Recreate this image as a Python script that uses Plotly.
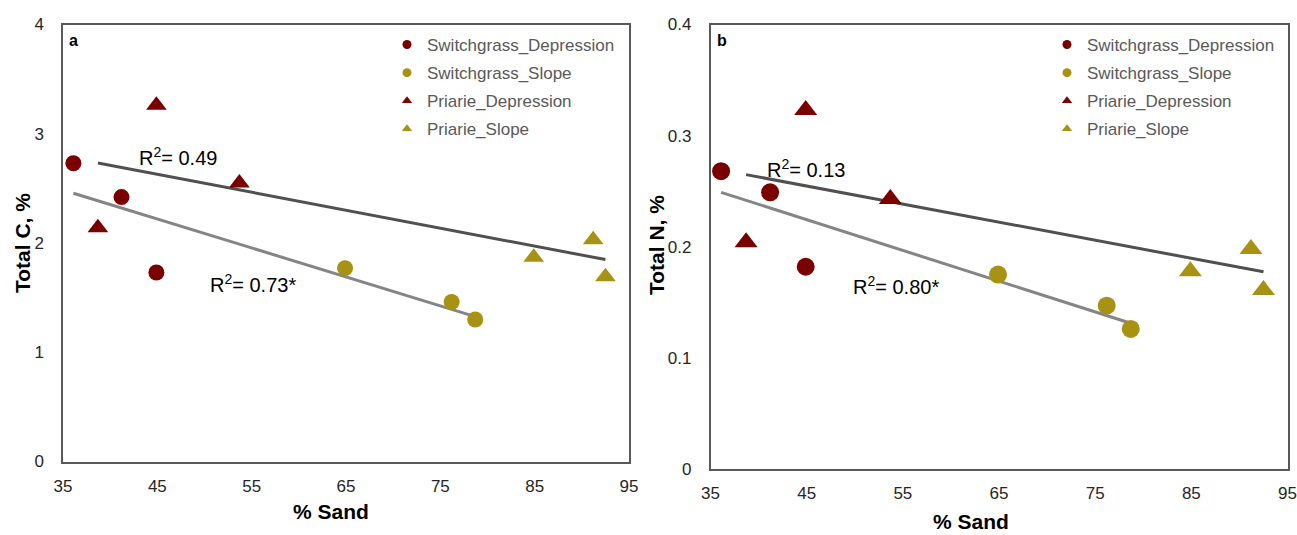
import numpy as np
import plotly.graph_objects as go

# ---------------- data ----------------
sg_dep_sand = [36.1, 41.2, 44.9]
sg_dep_C = [2.73, 2.42, 1.73]
sg_dep_N = [0.268, 0.249, 0.182]

sg_slope_sand = [64.9, 76.2, 78.7]
sg_slope_C = [1.77, 1.46, 1.30]
sg_slope_N = [0.175, 0.147, 0.126]

pr_dep_sand = [38.7, 44.9, 53.7]
pr_dep_C = [2.14, 3.26, 2.55]
pr_dep_N = [0.204, 0.323, 0.243]

pr_slope_sand = [84.9, 91.2, 92.5]
pr_slope_C = [1.87, 2.03, 1.69]
pr_slope_N = [0.178, 0.198, 0.161]

r2_labels_C = ["R<sup>2</sup>= 0.49", "R<sup>2</sup>= 0.73*"]
r2_labels_N = ["R<sup>2</sup>= 0.13", "R<sup>2</sup>= 0.80*"]
x_ticks = [35, 45, 55, 65, 75, 85, 95]
series_names = ["Switchgrass_Depression", "Switchgrass_Slope",
                "Priarie_Depression", "Priarie_Slope"]

# ---------------- style ----------------
RED = "#7A0000"
GOLD = "#A89214"
DARK_LINE = "#505050"
GRAY_LINE = "#858585"
FONT = "Arial, Liberation Sans, sans-serif"
W, H = 1297, 535

fig = go.Figure()


def fit_line(xs, ys):
    xs = np.array(xs)
    ys = np.array(ys)
    k, b = np.polyfit(xs, ys, 1)
    xx = np.array([xs.min(), xs.max()])
    return xx, k * xx + b


panels = [
    dict(xa="x", ya="y", legend="legend", size=16,
         data=[(sg_dep_sand, sg_dep_C), (sg_slope_sand, sg_slope_C),
               (pr_dep_sand, pr_dep_C), (pr_slope_sand, pr_slope_C)]),
    dict(xa="x2", ya="y2", legend="legend2", size=18,
         data=[(sg_dep_sand, sg_dep_N), (sg_slope_sand, sg_slope_N),
               (pr_dep_sand, pr_dep_N), (pr_slope_sand, pr_slope_N)]),
]
colors = [RED, GOLD, RED, GOLD]
symbols = ["circle", "circle", "triangle-up", "triangle-up"]

for pi, p in enumerate(panels):
    d = p["data"]
    # trend lines: Priarie (dark), Switchgrass (gray)
    px_, py_ = fit_line(d[2][0] + d[3][0], d[2][1] + d[3][1])
    fig.add_trace(go.Scatter(x=px_, y=py_, mode="lines", xaxis=p["xa"], yaxis=p["ya"],
                             line=dict(color=DARK_LINE, width=3), showlegend=False,
                             hoverinfo="skip"))
    sx_, sy_ = fit_line(d[0][0] + d[1][0], d[0][1] + d[1][1])
    fig.add_trace(go.Scatter(x=sx_, y=sy_, mode="lines", xaxis=p["xa"], yaxis=p["ya"],
                             line=dict(color=GRAY_LINE, width=3), showlegend=False,
                             hoverinfo="skip"))
    for i, (xs, ys) in enumerate(d):
        sz = p["size"] + (2 if symbols[i] == "triangle-up" else 0)
        fig.add_trace(go.Scatter(x=xs, y=ys, mode="markers", xaxis=p["xa"], yaxis=p["ya"],
                                 marker=dict(color=colors[i], symbol=symbols[i], size=sz,
                                             line=dict(width=0)),
                                 showlegend=False, name=series_names[i]))
    for i in range(4):
        fig.add_trace(go.Scatter(x=[None], y=[None], mode="markers",
                                 xaxis=p["xa"], yaxis=p["ya"],
                                 marker=dict(color=colors[i], symbol=symbols[i], size=9),
                                 name=series_names[i], legend=p["legend"],
                                 legendgroup=f"g{pi}{i}", showlegend=True))

# domains from pixel geometry
def xd(a, b):
    return [a / W, b / W]


def yd(top, bottom):
    return [(H - bottom) / H, (H - top) / H]


def px(x):
    return x / W


def py(y):
    return (H - y) / H


axis_common = dict(showgrid=False, zeroline=False, showline=True, mirror=True,
                   linecolor="#595959", linewidth=1.5, ticks="", automargin=False,
                   tickfont=dict(family=FONT, size=17, color="#262626"))

legend_common = dict(xref="paper", yref="paper", xanchor="left", yanchor="top",
                     bgcolor="rgba(255,255,255,0)",
                     font=dict(family=FONT, size=17, color="#595959"),
                     itemwidth=30, tracegroupgap=3)

fig.update_layout(
    width=W, height=H,
    margin=dict(l=0, r=0, t=0, b=0, autoexpand=False),
    plot_bgcolor="white", paper_bgcolor="white",
    font=dict(family=FONT),
    xaxis=dict(domain=xd(63, 629), range=[35, 95], tickvals=x_ticks, anchor="y",
               ticklabelstandoff=8, **axis_common),
    yaxis=dict(domain=yd(24.5, 461.5), range=[0, 4], dtick=1, anchor="x",
               ticklabelstandoff=14, **axis_common),
    xaxis2=dict(domain=xd(710.5, 1287.5), range=[35, 95], tickvals=x_ticks, anchor="y2",
                ticklabelstandoff=8, **axis_common),
    yaxis2=dict(domain=yd(24.5, 469), range=[0, 0.4], dtick=0.1, anchor="x2",
                ticklabelstandoff=14, **axis_common),
    legend=dict(x=px(387), y=py(27), **legend_common),
    legend2=dict(x=px(1047), y=py(27), **legend_common),
)


def label(text, x, y, size=20, angle=0, xanchor="center"):
    return dict(text=text, x=px(x), y=py(y), xref="paper", yref="paper",
                xanchor=xanchor, yanchor="middle", textangle=angle, showarrow=False,
                font=dict(family=FONT, size=size, color="black"))


ann = [
    label("<b>a</b>", 67, 40, size=16, xanchor="left"),
    label("<b>b</b>", 715, 40, size=16, xanchor="left"),
    label("<b>Total C, %</b>", 22, 243, size=21, angle=-90),
    label("<b>Total N, %</b>", 656, 245, size=21, angle=-90),
    label("<b>% Sand</b>", 331, 511, size=21),
    label("<b>% Sand</b>", 971, 521, size=21),
    label(r2_labels_C[0], 137, 157, xanchor="left"),
    label(r2_labels_C[1], 208, 284, xanchor="left"),
    label(r2_labels_N[0], 765, 168, xanchor="left"),
    label(r2_labels_N[1], 851, 285, xanchor="left"),
]
fig.update_layout(annotations=ann)

fig.write_html("out.html", config={"displayModeBar": False},
               post_script="document.body.style.margin='0';"
                           "document.body.style.overflow='hidden';")
